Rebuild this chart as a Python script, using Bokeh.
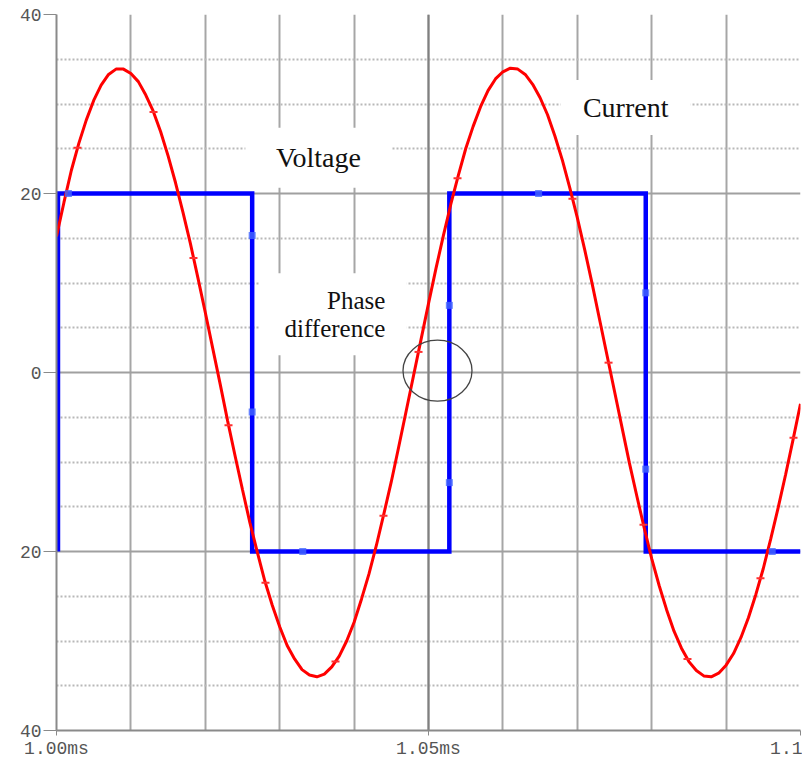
from bokeh.plotting import figure
from bokeh.models import FixedTicker, Span
from bokeh.core.properties import value
from bokeh.embed import file_html
from bokeh.resources import INLINE

# ---------------- data ----------------
# time axis in ms
current_t = [1.000, 1.001, 1.002, 1.003, 1.004, 1.005, 1.006, 1.007, 1.008, 1.009,
             1.010, 1.011, 1.012, 1.013, 1.014, 1.015, 1.016, 1.017, 1.018, 1.019,
             1.020, 1.021, 1.022, 1.023, 1.024, 1.025, 1.026, 1.027, 1.028, 1.029,
             1.030, 1.031, 1.032, 1.033, 1.034, 1.035, 1.036, 1.037, 1.038, 1.039,
             1.040, 1.041, 1.042, 1.043, 1.044, 1.045, 1.046, 1.047, 1.048, 1.049,
             1.050, 1.051, 1.052, 1.053, 1.054, 1.055, 1.056, 1.057, 1.058, 1.059,
             1.060, 1.061, 1.062, 1.063, 1.064, 1.065, 1.066, 1.067, 1.068, 1.069,
             1.070, 1.071, 1.072, 1.073, 1.074, 1.075, 1.076, 1.077, 1.078, 1.079,
             1.080, 1.081, 1.082, 1.083, 1.084, 1.085, 1.086, 1.087, 1.088, 1.089,
             1.090, 1.091, 1.092, 1.093, 1.094, 1.095, 1.096, 1.097, 1.098, 1.099,
             1.100]
current_v = [15.2, 19.0, 22.6, 25.6, 28.2, 30.4, 32.1, 33.3, 33.9, 33.9,
             33.4, 32.5, 31.0, 29.2, 26.9, 24.2, 21.2, 17.9, 14.4, 10.6,
             6.7, 2.7, -1.3, -5.4, -9.3, -13.1, -16.8, -20.1, -23.3, -26.0,
             -28.4, -30.5, -32.0, -33.2, -33.8, -34.0, -33.7, -32.9, -31.7, -30.0,
             -27.9, -25.3, -22.5, -19.3, -15.8, -12.2, -8.3, -4.3, -0.3, 3.7,
             7.7, 11.6, 15.3, 18.8, 22.0, 25.0, 27.5, 29.7, 31.5, 32.8,
             33.6, 34.0, 33.9, 33.3, 32.2, 30.7, 28.8, 26.4, 23.7, 20.6,
             17.3, 13.7, 9.9, 5.9, 1.9, -2.1, -6.1, -10.1, -13.8, -17.4,
             -20.8, -23.8, -26.5, -28.9, -30.8, -32.3, -33.3, -33.9, -34.0, -33.6,
             -32.7, -31.4, -29.6, -27.4, -24.8, -21.9, -18.6, -15.1, -11.4, -7.5,
             -3.5]

voltage_t = [1.000, 1.0002, 1.0263, 1.0263, 1.0528, 1.0528, 1.0792, 1.0792, 1.100]
voltage_v = [-20, 20, 20, -20, -20, 20, 20, -20, -20]
voltage_t[0] = voltage_t[1]  # vertical rising edge at the start

# trace point markers
current_mark_t = [1.00282, 1.01304, 1.01841, 1.02312, 1.02809, 1.0375, 1.04395, 1.04866,
                  1.0539, 1.06935, 1.0742, 1.0789, 1.08481, 1.09462, 1.09906]
current_mark_v = [25.1, 29.1, 12.8, -5.9, -23.5, -32.3, -16.0, 2.3,
                  21.7, 19.4, 1.1, -17.0, -32.0, -23.0, -7.3]
voltage_mark_t = [1.0016, 1.0263, 1.0263, 1.0331, 1.0528, 1.0528, 1.0648, 1.0792, 1.0792, 1.0962]
voltage_mark_v = [20, 15.3, -4.4, -20, 7.5, -12.3, 20, 8.9, -10.8, -20]

# axes
x_ticks = [1.00, 1.05, 1.10]
x_tick_labels = ["1.00ms", "1.05ms", "1.1"]
x_grid = [1.00, 1.01, 1.02, 1.03, 1.04, 1.05, 1.06, 1.07, 1.08, 1.09, 1.10]
y_ticks = [-40, -20, 0, 20, 40]
y_tick_labels = ["40", "20", "0", "20", "40"]
y_minor = [-35, -30, -25, -15, -10, -5, 5, 10, 15, 25, 30, 35]

# annotations
label_text = ["Voltage", "Current"]
label_t = [1.0352, 1.0765]
label_v = [24.0, 29.6]
phase_text = ["Phase", "difference"]
phase_t = [1.0442, 1.0442]
phase_v = [8.0, 4.9]
phase_box_t = [1.0372]
phase_box_v = [6.5]
circle_t = [1.05121]
circle_v = [0.2]

# ---------------- figure ----------------
p = figure(width=802, height=761, output_backend="svg", toolbar_location=None,
           x_range=(1.00, 1.10), y_range=(-40, 40),
           min_border_left=56, min_border_right=2, min_border_top=14, min_border_bottom=31)
p.outline_line_color = None
p.background_fill_color = "white"

mono = "Liberation Mono"
serif = "Liberation Serif"

# x axis
p.xaxis.ticker = FixedTicker(ticks=x_ticks)
p.xaxis.major_label_overrides = {t: l for t, l in zip(x_ticks, x_tick_labels)}
p.xaxis.major_label_text_font = mono
p.xaxis.major_label_text_font_size = "18px"
p.xaxis.major_label_text_color = "#555555"
p.xaxis.major_label_standoff = 3
p.xaxis.major_tick_out = 5
p.xaxis.major_tick_in = 0
p.xaxis.minor_tick_out = 0
p.xaxis.minor_tick_in = 0
p.xaxis.axis_line_color = "#8a8a8a"
p.xaxis.axis_line_width = 2
p.xaxis.major_tick_line_color = "#8a8a8a"

# y axis
p.yaxis.ticker = FixedTicker(ticks=y_ticks, minor_ticks=y_minor)
p.yaxis.major_label_overrides = {t: l for t, l in zip(y_ticks, y_tick_labels)}
p.yaxis.major_label_text_font = mono
p.yaxis.major_label_text_font_size = "18px"
p.yaxis.major_label_text_color = "#555555"
p.yaxis.major_label_standoff = 2
p.yaxis.major_tick_out = 13
p.yaxis.major_tick_in = 0
p.yaxis.minor_tick_out = 0
p.yaxis.minor_tick_in = 0
p.yaxis.axis_line_color = "#8a8a8a"
p.yaxis.axis_line_width = 2
p.yaxis.major_tick_line_color = "#8a8a8a"

# grids
p.xgrid.ticker = FixedTicker(ticks=x_grid)
p.xgrid.grid_line_color = "#a6a6a6"
p.xgrid.grid_line_width = 2
p.ygrid.grid_line_color = "#a0a0a0"
p.ygrid.grid_line_width = 2
p.ygrid.minor_grid_line_color = "#b8b8b8"
p.ygrid.minor_grid_line_width = 2
p.ygrid.minor_grid_line_dash = "2 2"

p.add_layout(Span(location=x_ticks[1], dimension="height", line_color="#808080",
                  line_width=2, level="underlay"))

# white boxes behind the labels
p.rect(x=[label_t[0]], y=[label_v[0]], width=146, height=60, width_units="screen",
       height_units="screen", fill_color="white", line_color=None)
p.rect(x=[label_t[1]], y=[label_v[1]], width=130, height=55, width_units="screen",
       height_units="screen", fill_color="white", line_color=None)
p.rect(x=phase_box_t, y=phase_box_v, width=147, height=82,
       width_units="screen", height_units="screen", fill_color="white", line_color=None)

# traces
p.line(voltage_t, voltage_v, line_color="#0000ff", line_width=4.5, line_join="miter")
p.line(current_t, current_v, line_color="#ff0000", line_width=3)
p.scatter(voltage_mark_t, voltage_mark_v, marker="square", size=7,
          fill_color="#4466ff", line_color=None, fill_alpha=0.8)
p.scatter(current_mark_t, current_mark_v, marker="dash", size=8,
          line_color="#ff3030", line_width=2)

# circle
p.ellipse(x=circle_t, y=circle_v, width=69, height=61, width_units="screen",
          height_units="screen", fill_color=None, line_color="#444444", line_width=1.3)

# texts
p.text(x=label_t, y=label_v, text=label_text, text_font=value(serif),
       text_font_size="28px", text_align="center", text_baseline="middle",
       text_color="#111111")
p.text(x=phase_t, y=phase_v, text=phase_text, text_font=value(serif),
       text_font_size="25px", text_align="right", text_baseline="middle",
       text_color="#111111")

open("out.html", "w").write(file_html(p, INLINE))
